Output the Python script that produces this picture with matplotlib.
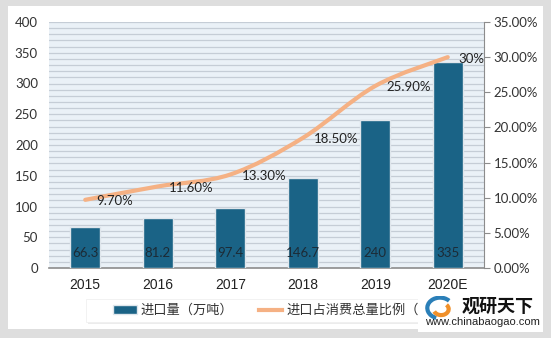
import numpy as np
import matplotlib.pyplot as plt
from matplotlib.patches import Rectangle, Arc
from matplotlib.path import Path
from matplotlib.patches import PathPatch

plt.rcParams['font.family'] = ['Lato', 'Noto Sans CJK SC', 'DejaVu Sans']

years = ['2015', '2016', '2017', '2018', '2019', '2020E']
imports = [66.3, 81.2, 97.4, 146.7, 240, 335]
ratio = [9.70, 11.60, 13.30, 18.50, 25.90, 30.0]
ratio_labels = ['9.70%', '11.60%', '13.30%', '18.50%', '25.90%', '30%']

bar_color = '#1a6386'
line_color = '#f5b184'

fig = plt.figure(figsize=(5.51, 3.38), dpi=100, facecolor='#dedede')
W, H = 551, 338
fig.patches.append(Rectangle((8 / W, 1 - 329 / H), 535 / W, 323 / H,
                             transform=fig.transFigure, facecolor='white',
                             edgecolor='none', zorder=-5))

ax = fig.add_axes([49 / W, 1 - 268 / H, 435 / W, 246 / H])
ax.set_facecolor('#eaf1f7')
x = np.arange(len(years))
ax.set_xlim(-0.5, len(years) - 0.5)
ax.set_ylim(0, 400)

# striped background
for yv in range(10, 400, 10):
    ax.axhline(yv, color='#c5cdd6', lw=0.9, zorder=1)
ax.axhline(400, color='#c5cdd6', lw=0.9, zorder=1)

bars = ax.bar(x, imports, width=0.41, color=bar_color, edgecolor='#dfe6ec',
              linewidth=1.0, zorder=3)
for xi, v in zip(x, imports):
    ax.annotate(f'{v:g}', (xi, 0), xytext=(0, 10.5), textcoords='offset points',
                ha='center', va='center', fontsize=9.5, color='#1c2b36', zorder=5)

ax.set_yticks(range(0, 401, 50))
ax.tick_params(axis='y', length=0, labelsize=9.5, labelcolor='#333333', pad=8)
ax.set_xticks(x)
ax.set_xticklabels(years, fontfamily='Liberation Sans', fontsize=10)
ax.tick_params(axis='x', length=0, labelcolor='#222222', pad=7)
for s in ['top', 'left', 'right']:
    ax.spines[s].set_visible(False)
ax.spines['bottom'].set_color('#8c8c8c')
ax.spines['bottom'].set_linewidth(1.2)

ax2 = ax.twinx()
ax2.set_ylim(0, 35)
ax2.set_yticks(np.arange(0, 36, 5))
ax2.set_yticklabels([f'{t:.2f}%' for t in np.arange(0, 36, 5)])
ax2.tick_params(axis='y', length=4, color='#8c8c8c', labelsize=9.5,
                labelcolor='#333333', pad=3)
for s in ['top', 'left', 'bottom']:
    ax2.spines[s].set_visible(False)
ax2.spines['right'].set_color('#8c8c8c')

# smoothed line (Catmull-Rom style bezier through the points)
px = x.astype(float)
py = np.array(ratio)
verts = [(px[0], py[0])]
codes = [Path.MOVETO]
n = len(px)
for i in range(n - 1):
    p0 = (px[max(i - 1, 0)], py[max(i - 1, 0)])
    p1 = (px[i], py[i])
    p2 = (px[i + 1], py[i + 1])
    p3 = (px[min(i + 2, n - 1)], py[min(i + 2, n - 1)])
    c1 = (p1[0] + (p2[0] - p0[0]) / 6, p1[1] + (p2[1] - p0[1]) / 6)
    c2 = (p2[0] - (p3[0] - p1[0]) / 6, p2[1] - (p3[1] - p1[1]) / 6)
    verts += [c1, c2, p2]
    codes += [Path.CURVE4] * 3
ax2.add_patch(PathPatch(Path(verts, codes), facecolor='none', edgecolor=line_color,
                        lw=3, capstyle='round', zorder=4))
line_handle, = ax2.plot([], [], color=line_color, lw=3)

for xi, v, lab in zip(x, ratio, ratio_labels):
    ax2.annotate(lab, (xi, v), xytext=(8, -1), textcoords='offset points',
                 ha='left', va='center', fontsize=9.5, color='#222222', zorder=6)

# legend box with a soft shadow
fig.patches.append(Rectangle((88 / W, 1 - 324 / H), 360 / W, 23 / H,
                             transform=fig.transFigure, facecolor='#ececec',
                             edgecolor='none', zorder=-4))
fig.patches.append(Rectangle((86 / W, 1 - 322 / H), 360 / W, 23 / H,
                             transform=fig.transFigure, facecolor='white',
                             edgecolor='#f0f0f0', lw=0.6, zorder=-3))
leg = fig.legend([bars, line_handle], ['进口量（万吨）', '进口占消费总量比例（%）'],
                 loc='center left', bbox_to_anchor=(113 / W, 1 - 310.5 / H), ncol=2,
                 frameon=False, borderpad=0, borderaxespad=0,
                 handlelength=1.8, handleheight=0.6, handletextpad=0.3,
                 columnspacing=1.9, prop={'family': ['Noto Sans CJK SC'], 'size': 9.5})
for t in leg.get_texts():
    t.set_color('#333333')

# watermark logo
fig.patches.append(Rectangle((418 / W, 1 - 332 / H), 125 / W, 40 / H,
                             transform=fig.transFigure, facecolor='white',
                             edgecolor='none', zorder=10))
lax = fig.add_axes([425 / W, 1 - 320 / H, 30 / W, 24 / H], zorder=11)
lax.set_xlim(-1.3, 1.3)
lax.set_ylim(-1.1, 1.1)
lax.axis('off')
lax.add_patch(Arc((0, 0), 2.2, 1.9, theta1=40, theta2=250, color='#2a7fb8', lw=3))
lax.add_patch(Arc((0.1, -0.1), 1.3, 1.1, theta1=200, theta2=400, color='#f0902a', lw=3))
fig.text(462 / W, 1 - 306 / H, '观研天下', fontsize=13, fontweight='bold',
         family=['Noto Sans CJK SC'], color='#111111', va='center', zorder=12)
fig.text(425 / W, 1 - 322 / H, 'www.chinabaogao.com', fontsize=8,
         family=['Liberation Sans'], color='#222222', va='center', zorder=12)

fig.savefig('out.png', dpi=100, facecolor=fig.get_facecolor())
